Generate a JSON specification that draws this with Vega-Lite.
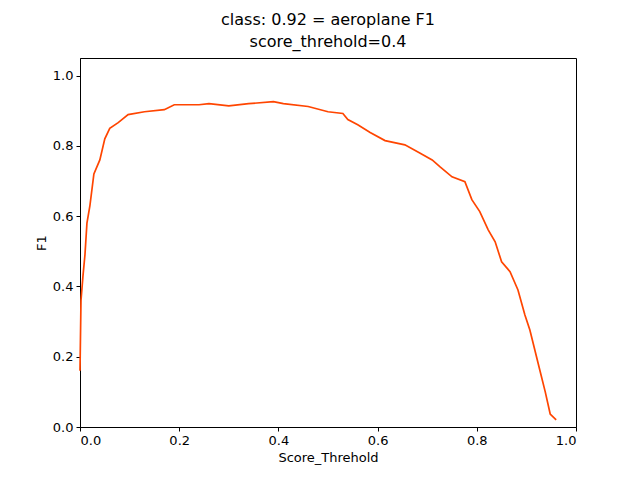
{
  "$schema": "https://vega.github.io/schema/vega-lite/v6.json",
  "width": 496,
  "height": 369,
  "autosize": {"type": "none"},
  "padding": {"left": 80, "top": 58, "right": 64, "bottom": 53},
  "background": "white",
  "title": {
    "text": ["class: 0.92 = aeroplane F1", "score_threhold=0.4"],
    "font": "DejaVu Sans", "fontSize": 16, "fontWeight": "normal", "lineHeight": 22, "offset": 8
  },
  "data": {"values": [
    {"x": 0, "y": 0.16}, {"x": 0.002, "y": 0.36}, {"x": 0.006, "y": 0.43}, {"x": 0.01, "y": 0.49},
    {"x": 0.014, "y": 0.58}, {"x": 0.02, "y": 0.63}, {"x": 0.028, "y": 0.72}, {"x": 0.04, "y": 0.76},
    {"x": 0.05, "y": 0.82}, {"x": 0.06, "y": 0.85}, {"x": 0.077, "y": 0.866}, {"x": 0.097, "y": 0.889},
    {"x": 0.13, "y": 0.897}, {"x": 0.17, "y": 0.903}, {"x": 0.19, "y": 0.917}, {"x": 0.24, "y": 0.917},
    {"x": 0.26, "y": 0.92}, {"x": 0.3, "y": 0.914}, {"x": 0.34, "y": 0.92}, {"x": 0.39, "y": 0.926},
    {"x": 0.41, "y": 0.92}, {"x": 0.46, "y": 0.912}, {"x": 0.5, "y": 0.897}, {"x": 0.53, "y": 0.892},
    {"x": 0.54, "y": 0.875}, {"x": 0.56, "y": 0.86}, {"x": 0.585, "y": 0.838}, {"x": 0.615, "y": 0.815},
    {"x": 0.655, "y": 0.803}, {"x": 0.685, "y": 0.78}, {"x": 0.71, "y": 0.76}, {"x": 0.726, "y": 0.74},
    {"x": 0.75, "y": 0.712}, {"x": 0.776, "y": 0.698}, {"x": 0.79, "y": 0.647}, {"x": 0.806, "y": 0.613},
    {"x": 0.823, "y": 0.561}, {"x": 0.837, "y": 0.527}, {"x": 0.85, "y": 0.47}, {"x": 0.867, "y": 0.442},
    {"x": 0.883, "y": 0.39}, {"x": 0.897, "y": 0.319}, {"x": 0.907, "y": 0.276}, {"x": 0.917, "y": 0.219},
    {"x": 0.927, "y": 0.162}, {"x": 0.938, "y": 0.1}, {"x": 0.948, "y": 0.037}, {"x": 0.96, "y": 0.02}
  ]},
  "mark": {"type": "line", "color": "#ff4500", "strokeWidth": 1.7},
  "encoding": {
    "x": {"field": "x", "type": "quantitative", "title": "Score_Threhold",
      "scale": {"domain": [0, 1], "nice": false},
      "axis": {"values": [0, 0.2, 0.4, 0.6, 0.8, 1.0], "format": ".1f"}},
    "y": {"field": "y", "type": "quantitative", "title": "F1",
      "scale": {"domain": [0, 1.05], "nice": false},
      "axis": {"values": [0, 0.2, 0.4, 0.6, 0.8, 1.0], "format": ".1f"}}
  },
  "config": {
    "view": {"stroke": "black", "strokeWidth": 1},
    "axis": {"grid": false, "domainColor": "black", "tickColor": "black", "tickSize": 4,
      "labelFont": "DejaVu Sans", "labelFontSize": 13, "labelColor": "black", "labelPadding": 3,
      "titleFont": "DejaVu Sans", "titleFontSize": 13, "titleFontWeight": "normal", "titleColor": "black"}
  }
}
